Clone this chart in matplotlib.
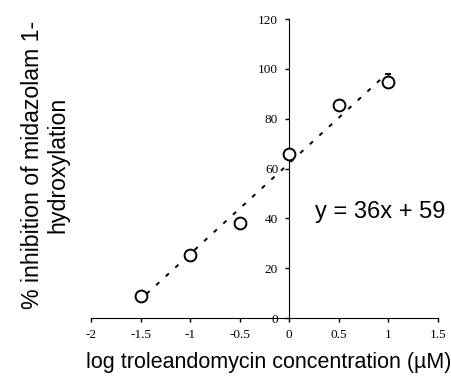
import numpy as np
import matplotlib.pyplot as plt

# Daten
log_conc = [-1.5, -1.0, -0.5, 0.0, 0.5, 1.0]
inhibition = [8.8, 25.3, 38.3, 65.9, 85.4, 94.8]
inhibition_err = [0.0, 0.0, 0.0, 0.0, 0.0, 3.2]

x_ticks = [-2, -1.5, -1, -0.5, 0, 0.5, 1, 1.5]
x_tick_labels = ['-2', '-1.5', '-1', '-0.5', '0', '0.5', '1', '1.5']
y_ticks = [0, 20, 40, 60, 80, 100, 120]

equation = 'y = 36x + 59'

fig = plt.figure(figsize=(4.52, 3.88), dpi=100)
ax = fig.add_axes([0.2013, 0.180, 0.7677, 0.771])

# Trendlinie
slope, intercept = np.polyfit(log_conc, inhibition, 1)
xs = np.array([log_conc[0] + 0.06, log_conc[-1] - 0.05])
ax.plot(xs, slope * xs + intercept, color='black', lw=1.4,
        linestyle=(0, (2.2, 4.5)), zorder=2)

# nur obere Fehlerbalken
ax.errorbar(log_conc, inhibition, yerr=[np.zeros(6), inhibition_err],
            fmt='o', ms=8.5, mfc='white', mec='black', mew=1.4,
            ecolor='black', elinewidth=1, capsize=2.5, capthick=1, zorder=3)

ax.set_xlim(-2, 1.5)
ax.set_ylim(0, 120)
ax.spines['left'].set_position(('data', 0))
ax.spines['bottom'].set_position(('data', 0))
ax.spines['top'].set_visible(False)
ax.spines['right'].set_visible(False)

ax.set_xticks(x_ticks)
ax.set_xticklabels(x_tick_labels)
ax.set_yticks(y_ticks)
ax.tick_params(axis='both', direction='out', length=3, width=1,
               labelsize=9.5, pad=5)
for lab in ax.get_xticklabels() + ax.get_yticklabels():
    lab.set_fontfamily('Liberation Serif')

ax.text(0.26, 40.2, equation, fontsize=17, family='Liberation Sans',
        ha='left', va='baseline')

fig.text(0.595, 0.065, 'log troleandomycin concentration (\u00b5M)',
         fontsize=15.5, family='Liberation Sans', ha='center', va='center')
fig.text(0.1, 0.575, '% inhibition of midazolam 1-\nhydroxylation',
         fontsize=16.7, family='Liberation Sans', ha='center', va='center',
         rotation=90, linespacing=1.1)

fig.savefig('out.png', dpi=100)
